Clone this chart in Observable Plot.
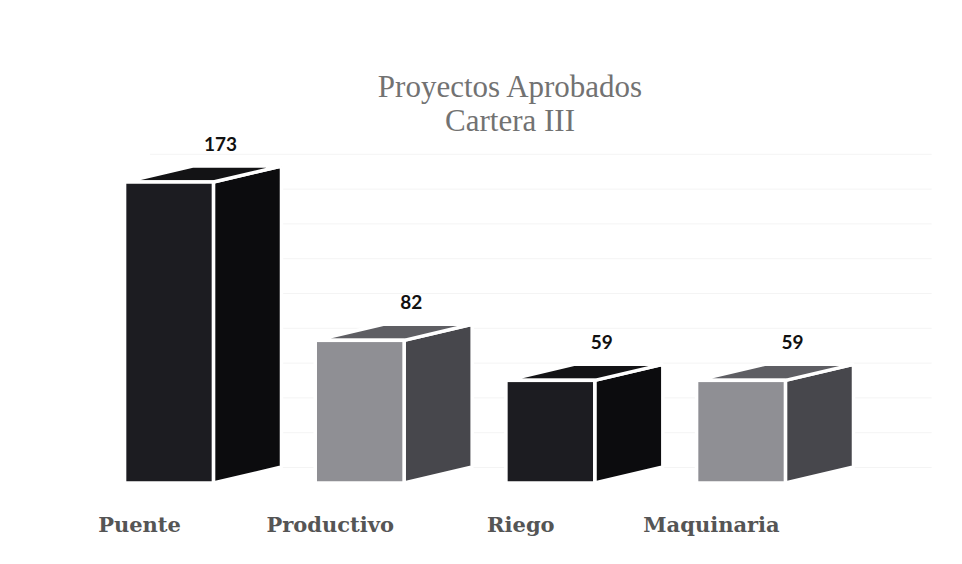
<!DOCTYPE html>
<html>
<head>
<meta charset="utf-8">
<script src="https://cdn.jsdelivr.net/npm/d3@7"></script>
<script src="https://cdn.jsdelivr.net/npm/@observablehq/plot@0.6"></script>
<style>
  html, body { margin: 0; padding: 0; background: #fff; }
  #wrap { position: relative; width: 962px; height: 564px; overflow: hidden; }
  #title {
    position: absolute; top: 70px; left: 510px; transform: translateX(-50%);
    font-family: "Liberation Serif", serif; font-size: 31px; line-height: 34px;
    color: #727272; text-align: center; white-space: nowrap;
  }
  #chart { position: absolute; top: 0; left: 0; }
</style>
</head>
<body>
<div id="wrap">
  <div id="chart"></div>
  <div id="title">Proyectos Aprobados<br>Cartera III</div>
</div>
<script>
// ---- data ----
const categories = ["Puente", "Productivo", "Riego", "Maquinaria"];
const values = [173, 82, 59, 59];
const tones = ["dark", "light", "dark", "light"];
const gridValues = [0, 20, 40, 60, 80, 100, 120, 140, 160, 180];

// ---- styling ----
const palette = {
  dark:  {front: "#1c1c21", side: "#0c0c0e", top: "#131315"},
  light: {front: "#8f8f94", side: "#47474c", top: "#5e5e63"}
};
const hw = 0.233;     // half width of the front face (x units)
const depth = 0.357;  // oblique depth along x (x units)
const lift = 9.2;     // oblique depth along y (value units)

const bars = categories.map((c, i) => ({c, i, v: values[i], tone: tones[i]}));
const sides = bars.flatMap(d => [
  {c: d.c, x: d.i + hw, y1: 0, y2: d.v, fill: palette[d.tone].side},
  {c: d.c, x: d.i + hw + depth, y1: lift, y2: d.v + lift, fill: palette[d.tone].side}
]);
const tops = bars.flatMap(d => [
  {c: d.c, y: d.v, x1: d.i - hw, x2: d.i + hw, fill: palette[d.tone].top},
  {c: d.c, y: d.v + lift, x1: d.i - hw + depth, x2: d.i + hw + depth, fill: palette[d.tone].top}
]);

const chart = Plot.plot({
  width: 962,
  height: 564,
  margin: 0,
  style: {background: "transparent"},
  x: {type: "linear", domain: [0, 3], range: [169, 741], axis: null},
  y: {type: "linear", domain: [0, 173], range: [483, 182], axis: null},
  marks: [
    Plot.ruleY(gridValues, {y: d => d + lift, x1: -0.1, x2: 4.0, stroke: "#f4f4f4", strokeWidth: 1}),
    Plot.areaY(sides, {x: "x", y1: "y1", y2: "y2", z: "c", fill: "fill", stroke: "white", strokeWidth: 3.5, strokeLinejoin: "miter"}),
    Plot.areaX(tops, {y: "y", x1: "x1", x2: "x2", z: "c", fill: "fill", stroke: "white", strokeWidth: 3.5, strokeLinejoin: "miter"}),
    Plot.rect(bars, {x1: d => d.i - hw, x2: d => d.i + hw, y1: 0, y2: "v",
      fill: d => palette[d.tone].front, stroke: "white", strokeWidth: 3.5}),
    Plot.text(bars, {x: "i", y: "v", text: d => String(d.v), dx: 51, dy: -38,
      fontFamily: "Lato", fontWeight: "bold", fontSize: 19, fill: "#111"}),
    Plot.text(bars, {x: "i", y: 0, text: "c", dx: -30, dy: 42,
      fontFamily: "DejaVu Serif", fontWeight: "bold", fontSize: 21, fill: "#555"})
  ]
});
document.getElementById("chart").appendChild(chart);
</script>
</body>
</html>
